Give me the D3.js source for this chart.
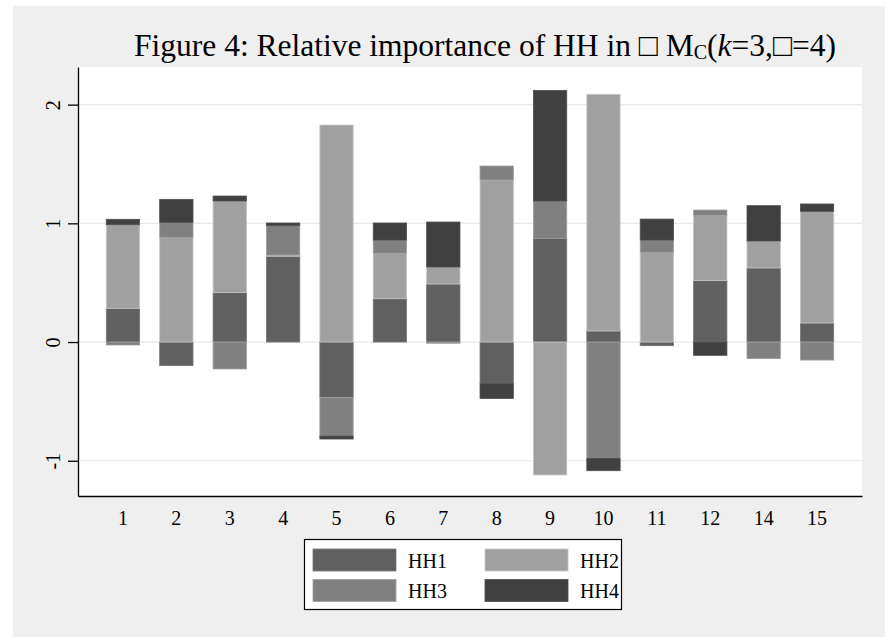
<!DOCTYPE html>
<html>
<head>
<meta charset="utf-8">
<script src="https://cdn.jsdelivr.net/npm/d3@7"></script>
<style>
  body { margin: 0; background: #ffffff; }
  svg text { font-family: "Liberation Serif", "Times New Roman", serif; fill: #000; }
</style>
</head>
<body>
<script>
// categories (13 is absent in the original)
const categories = ["1","2","3","4","5","6","7","8","9","10","11","12","14","15"];
const keys = ["HH1","HH2","HH3","HH4"];
const hh1 = [0.284, -0.199, 0.416, 0.723, -0.466, 0.365, 0.489, -0.351, 0.874, 0.093, -0.031, 0.517, 0.624, 0.160];
const hh2 = [0.704, 0.879, 0.772, 0.010, 1.828, 0.382, 0.143, 1.365, -1.120, 1.994, 0.755, 0.550, 0.227, 0.941];
const hh3 = [-0.025, 0.129, -0.227, 0.247, -0.326, 0.112, -0.010, 0.118, 0.314, -0.980, 0.104, 0.045, -0.140, -0.152];
const hh4 = [0.046, 0.194, 0.042, 0.023, -0.025, 0.144, 0.379, -0.124, 0.932, -0.104, 0.177, -0.112, 0.298, 0.062];
const yTicks = [-1, 0, 1, 2];

const colors = {HH1: "#606060", HH2: "#a0a0a0", HH3: "#808080", HH4: "#404040"};
const serif = '"Liberation Serif", "Times New Roman", serif';

const W = 885, H = 637;
const plot = {left: 78, right: 862, top: 67, bottom: 496};

const rows = categories.map((c, i) => ({cat: c, HH1: hh1[i], HH2: hh2[i], HH3: hh3[i], HH4: hh4[i]}));

const svg = d3.select("body").append("svg")
  .attr("width", W).attr("height", H);

// graph region
svg.append("rect").attr("x", 13).attr("y", 6).attr("width", W - 13).attr("height", H - 6)
  .attr("fill", "#efefef");
svg.append("rect").attr("x", plot.left).attr("y", plot.top)
  .attr("width", plot.right - plot.left).attr("height", plot.bottom - plot.top)
  .attr("fill", "#ffffff");

const x = d3.scaleBand().domain(categories)
  .range([plot.left, plot.right]).paddingInner(0.376).paddingOuter(0.53);
const y = d3.scaleLinear().domain([-1.297, 2.317]).range([plot.bottom, plot.top]);

// grid
svg.append("g").selectAll("line").data(yTicks).join("line")
  .attr("x1", plot.left).attr("x2", plot.right)
  .attr("y1", d => y(d)).attr("y2", d => y(d))
  .attr("stroke", "#e8e8e8").attr("stroke-width", 1.2);

// stacked bars (positives up, negatives down)
const series = d3.stack().keys(keys).offset(d3.stackOffsetDiverging)(rows);

svg.append("g").selectAll("g").data(series).join("g")
  .attr("fill", d => colors[d.key])
  .attr("stroke", d => d3.color(colors[d.key]).brighter(0.6))
  .attr("stroke-width", 0.8)
  .selectAll("rect").data(d => d).join("rect")
  .attr("x", d => x(d.data.cat))
  .attr("width", x.bandwidth())
  .attr("y", d => y(Math.max(d[0], d[1])))
  .attr("height", d => Math.abs(y(d[0]) - y(d[1])));

// axes
const yAxis = svg.append("g").attr("transform", `translate(${plot.left},0)`)
  .call(d3.axisLeft(y).tickValues(yTicks).tickSize(10).tickSizeOuter(0).tickFormat(d => String(d)));
yAxis.select(".domain").attr("stroke", "#000").attr("stroke-width", 1.3);
yAxis.selectAll(".tick line").attr("stroke", "#000").attr("stroke-width", 1.3);
yAxis.selectAll("text")
  .attr("transform", "rotate(-90)")
  .attr("x", 0).attr("y", -18).attr("dy", 0)
  .attr("text-anchor", "middle")
  .style("font-family", serif)
  .style("font-size", "20px");

const xAxis = svg.append("g").attr("transform", `translate(0,${plot.bottom})`)
  .call(d3.axisBottom(x).tickSize(0).tickPadding(15).tickSizeOuter(0));
xAxis.select(".domain").attr("stroke", "#000").attr("stroke-width", 1.3);
xAxis.selectAll("text").style("font-family", serif).style("font-size", "20px");

// title
const title = svg.append("text").attr("x", 485).attr("y", 56)
  .attr("text-anchor", "middle").style("font-size", "31.5px");
title.append("tspan").text("Figure 4: Relative importance of HH in \u25A1 M");
title.append("tspan").attr("dy", 3).style("font-size", "20px").text("C");
title.append("tspan").attr("dy", -3).text("(");
title.append("tspan").style("font-style", "italic").text("k");
title.append("tspan").text("=3,\u25A1=4)");

// legend
const lg = svg.append("g");
lg.append("rect").attr("x", 304.5).attr("y", 539.5).attr("width", 317).attr("height", 70)
  .attr("fill", "#fff").attr("stroke", "#000").attr("stroke-width", 1.2);
const lx = [313, 485], ly = [549, 579.5];
keys.forEach((k, i) => {
  const cx = lx[i % 2], cy = ly[Math.floor(i / 2)];
  lg.append("rect").attr("x", cx).attr("y", cy).attr("width", 83).attr("height", 22)
    .attr("fill", colors[k]).attr("stroke", d3.color(colors[k]).brighter(0.6)).attr("stroke-width", 0.8);
  lg.append("text").attr("x", cx + 95).attr("y", cy + 18.5)
    .style("font-size", "20px").text(k);
});
</script>
</body>
</html>
